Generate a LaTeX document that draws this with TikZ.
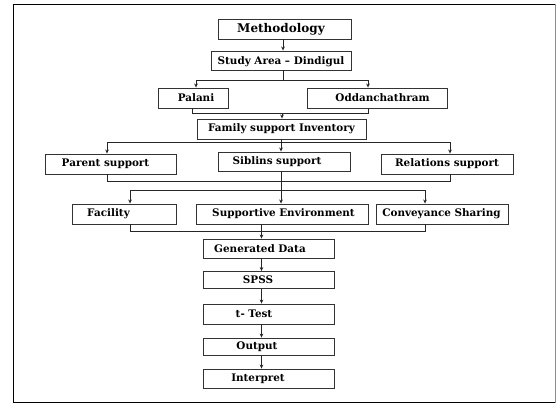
\documentclass[tikz,border=0pt]{standalone}
\usepackage{fontspec}
\setmainfont{DejaVu Serif}
\usetikzlibrary{arrows.meta}
\begin{document}
\begin{tikzpicture}[x=1pt,y=-1pt,
  box/.style={draw=black!80, line width=0.9pt, inner sep=0pt},
  txt/.style={font=\bfseries\fontsize{10.4}{12}\selectfont, inner sep=0pt, anchor=center},
  bigtxt/.style={txt, font=\bfseries\fontsize{12}{14}\selectfont},
  conn/.style={draw=black!85, line width=0.7pt},
  arr/.style={conn, -{Stealth[length=4pt,width=3.6pt]}},
]
\useasboundingbox (0,0) rectangle (556,404);
% frame
\draw[line width=1.8pt] (555,4.5) -- (13.5,4.5) -- (13.5,402.5) -- (555,402.5);
\draw[black!45, line width=0.8pt] (555,4.5) -- (555,402.5);

% boxes
\node[box, minimum width=133pt, minimum height=20pt] (meth) at (284.5,29) {};
\node[bigtxt] (meth-t) at (281,29) {Methodology};
\node[box, minimum width=140pt, minimum height=19pt] (study) at (281,60.5) {};
\node[txt] (study-t) at (281,62) {Study Area -- Dindigul};
\node[box, minimum width=70pt, minimum height=20pt] (palani) at (193,98) {};
\node[txt] (palani-t) at (196,98) {Palani};
\node[box, minimum width=140pt, minimum height=20pt] (odd) at (377,98) {};
\node[txt] (odd-t) at (382.5,98) {Oddanchathram};
\node[box, minimum width=169pt, minimum height=20pt] (family) at (281.5,129) {};
\node[txt] (family-t) at (281.5,129) {Family support Inventory};
\node[box, minimum width=131pt, minimum height=20pt] (parent) at (110.5,164) {};
\node[txt] (parent-t) at (105.5,164) {Parent support};
\node[box, minimum width=132pt, minimum height=19pt] (siblins) at (284,161.5) {};
\node[txt] (siblins-t) at (277,161.5) {Siblins support};
\node[box, minimum width=132pt, minimum height=20pt] (relations) at (447,164) {};
\node[txt] (relations-t) at (447,164) {Relations support};
\node[box, minimum width=104pt, minimum height=20pt] (facility) at (124,214) {};
\node[txt] (facility-t) at (108.5,214) {Facility};
\node[box, minimum width=172pt, minimum height=20pt] (supportive) at (282,214) {};
\node[txt] (supportive-t) at (283.5,214) {Supportive Environment};
\node[box, minimum width=132pt, minimum height=20pt] (conveyance) at (442,214) {};
\node[txt] (conveyance-t) at (441.5,214) {Conveyance Sharing};
\node[box, minimum width=131pt, minimum height=19pt] (generated) at (268.5,248.5) {};
\node[txt] (generated-t) at (260,248.5) {Generated Data};
\node[box, minimum width=131pt, minimum height=17pt] (spss) at (268.5,280) {};
\node[txt] (spss-t) at (258,280) {SPSS};
\node[box, minimum width=131pt, minimum height=20pt] (ttest) at (268.5,314) {};
\node[txt] (ttest-t) at (254,314) {t- Test};
\node[box, minimum width=131pt, minimum height=17pt] (output) at (268.5,346.5) {};
\node[txt] (output-t) at (257,346.5) {Output};
\node[box, minimum width=131pt, minimum height=19pt] (interpret) at (268.5,378.5) {};
\node[txt] (interpret-t) at (258,378.5) {Interpret};

% axis coordinates
\coordinate (a1) at (283,80);
\coordinate (s1L) at (196,80);
\coordinate (s1R) at (368,80);
\coordinate (m1L) at (192,113);
\coordinate (m1R) at (368,113);
\coordinate (m1C) at (282,113);
\coordinate (s2L) at (107,142);
\coordinate (s2C) at (281,142);
\coordinate (s2R) at (450,142);
\coordinate (m2L) at (107,181);
\coordinate (m2R) at (450,181);
\coordinate (s3L) at (130,190);
\coordinate (s3C) at (281,190);
\coordinate (s3R) at (425,190);
\coordinate (m3L) at (130,231);
\coordinate (m3R) at (425,231);
\coordinate (vC) at (261.5,0);

% connectors
\draw[arr] (meth.south -| a1) -- (study.north -| a1);
\draw[conn] (study.south -| a1) -- (a1);
\draw[conn] (s1L) -- (s1R);
\draw[arr] (s1L) -- (palani.north -| s1L);
\draw[arr] (s1R) -- (odd.north -| s1R);

\draw[conn] (palani.south -| m1L) -- (m1L) -- (m1R) -- (odd.south -| m1R);
\draw[arr] (m1C) -- (family.north -| m1C);

\draw[conn] (family.south -| s2C) -- (s2C);
\draw[conn] (s2L) -- (s2R);
\draw[arr] (s2L) -- (parent.north -| s2L);
\draw[arr] (s2C) -- (siblins.north -| s2C);
\draw[arr] (s2R) -- (relations.north -| s2R);

\draw[conn] (parent.south -| m2L) -- (m2L) -- (m2R) -- (relations.south -| m2R);
\draw[arr] (siblins.south -| s3C) -- (supportive.north -| s3C);
\draw[conn] (s3L) -- (s3R);
\draw[arr] (s3L) -- (facility.north -| s3L);
\draw[arr] (s3R) -- (conveyance.north -| s3R);

\draw[conn] (facility.south -| m3L) -- (m3L) -- (m3R) -- (conveyance.south -| m3R);
\draw[arr] (supportive.south -| vC) -- (generated.north -| vC);

\draw[arr] (generated.south -| vC) -- (spss.north -| vC);
\draw[arr] (spss.south -| vC) -- (ttest.north -| vC);
\draw[arr] (ttest.south -| vC) -- (output.north -| vC);
\draw[arr] (output.south -| vC) -- (interpret.north -| vC);
\end{tikzpicture}
\end{document}
